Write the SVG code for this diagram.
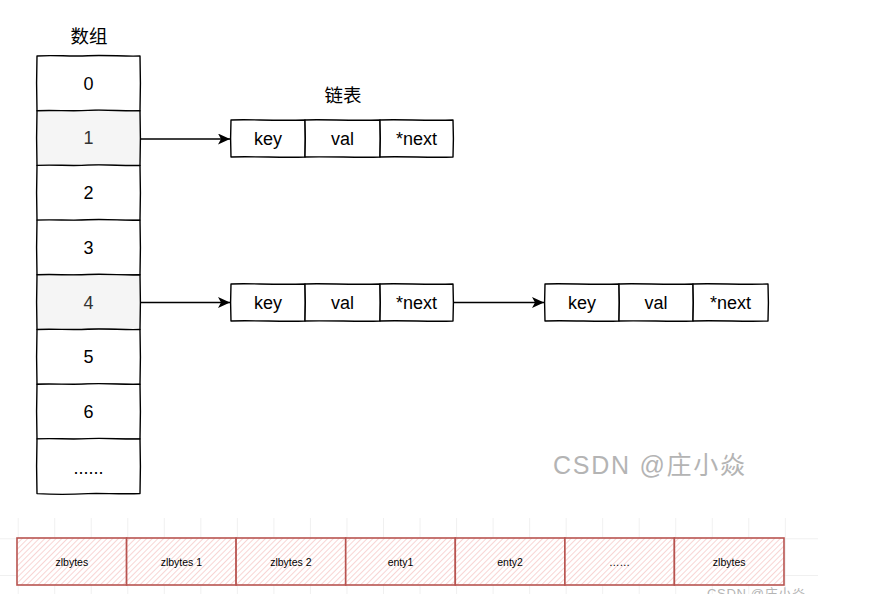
<svg xmlns="http://www.w3.org/2000/svg" width="893" height="594" viewBox="0 0 893 594">
<style>
.sk{fill:#fff;stroke:#000;stroke-width:1.4;stroke-linejoin:round}
.hl{fill:#f5f5f5}
.t{font-family:"Liberation Sans","Noto Sans CJK SC",sans-serif;font-size:18px;text-anchor:middle;fill:#000}
.tg{fill:#333}
.cjk{font-family:"Noto Sans CJK SC","Liberation Sans",sans-serif;font-size:18.5px;text-anchor:middle;fill:#000}
.zc{fill:url(#hatch);stroke:#b85450;stroke-width:1.6}
.zt{font-family:"Liberation Sans",Arial,sans-serif;font-size:10.5px;text-anchor:middle;fill:#000}
.con{fill:none;stroke:#000;stroke-width:1.4}
.wm{font-family:"Liberation Sans","Noto Sans CJK SC",sans-serif;fill:#b4b4b4}
</style>
<defs>
<marker id="ah" markerWidth="13" markerHeight="12" refX="12" refY="5.5" orient="auto" markerUnits="userSpaceOnUse">
<path d="M0,0 L12,5.5 L0,11 L3,5.5 Z" fill="#000"/>
</marker>
<pattern id="hatch" width="4" height="4" patternUnits="userSpaceOnUse" patternTransform="rotate(45)">
<rect width="4" height="4" fill="#fff"/>
<line x1="0" y1="0" x2="0" y2="4" stroke="#f5c4c2" stroke-width="1.4"/>
</pattern>
<pattern id="grid" x="17.7" y="538.3" width="36.53" height="36.7" patternUnits="userSpaceOnUse">
<rect width="36.53" height="36.7" fill="#fff"/>
<path d="M0,0 H36.53 M0,0 V36.7" stroke="#e2e2e2" stroke-width="1" fill="none"/>
</pattern>
</defs>
<rect width="893" height="594" fill="#fff"/>

<text class="cjk" x="89" y="43">数组</text>
<text class="cjk" x="343" y="102">链表</text>

<g id="cell0">
<path class="sk" d="M37,56 C55,54.8 70,56.8 88,55.7 S125,56.8 140,56 L140.4,83 L140,110.7 C120,111.6 100,110 88,110.7 S50,111.5 37,110.7 L36.6,83 Z"/>
<text class="t" x="88.5" y="89.7">0</text>
</g>
<g id="cell1">
<path class="sk hl" d="M37,110.7 C55,109.8 70,111.5 88,110.4 S125,111.5 140,110.7 L140.4,138 L140,165.4 C120,166.3 100,164.7 88,165.4 S50,166.2 37,165.4 L36.6,138 Z"/>
<text class="t tg" x="88.5" y="144.3">1</text>
</g>
<g id="cell2">
<path class="sk" d="M37,165.4 C55,164.5 70,166.2 88,165.1 S125,166.2 140,165.4 L140.4,192.8 L140,220.1 C120,221 100,219.4 88,220.1 S50,220.9 37,220.1 L36.6,192.8 Z"/>
<text class="t" x="88.5" y="199.1">2</text>
</g>
<g id="cell3">
<path class="sk" d="M37,220.1 C55,219.2 70,220.9 88,219.8 S125,220.9 140,220.1 L140.4,247.5 L140,274.8 C120,275.7 100,274.1 88,274.8 S50,275.6 37,274.8 L36.6,247.5 Z"/>
<text class="t" x="88.5" y="253.8">3</text>
</g>
<g id="cell4">
<path class="sk hl" d="M37,274.8 C55,273.9 70,275.6 88,274.5 S125,275.6 140,274.8 L140.4,302.2 L140,329.5 C120,330.4 100,328.8 88,329.5 S50,330.3 37,329.5 L36.6,302.2 Z"/>
<text class="t tg" x="88.5" y="308.5">4</text>
</g>
<g id="cell5">
<path class="sk" d="M37,329.5 C55,328.6 70,330.3 88,329.2 S125,330.3 140,329.5 L140.4,356.9 L140,384.2 C120,385.1 100,383.5 88,384.2 S50,385 37,384.2 L36.6,356.9 Z"/>
<text class="t" x="88.5" y="363.2">5</text>
</g>
<g id="cell6">
<path class="sk" d="M37,384.2 C55,383.3 70,385 88,383.9 S125,385 140,384.2 L140.4,411.6 L140,438.9 C120,439.8 100,438.2 88,438.9 S50,439.7 37,438.9 L36.6,411.6 Z"/>
<text class="t" x="88.5" y="417.9">6</text>
</g>
<g id="cell7">
<path class="sk" d="M37,438.9 C55,438 70,439.7 88,438.6 S125,439.7 140,438.9 L140.4,466.3 L140,493.6 C120,494.4 100,492.9 88,493.6 S50,494.4 37,493.6 L36.6,466.3 Z"/>
<text class="t" x="88.5" y="474">......</text>
</g>

<g id="node1-key">
<path class="sk" d="M231,120 C250,119 270,121 305,120 L305.3,138.5 L305,157 C285,158 255,156.2 231,157 L230.6,138.5 Z"/>
<text class="t" x="268" y="145">key</text>
</g>
<g id="node1-val">
<path class="sk" d="M305,120 C325,119.2 350,121 380,120 L380.3,138.5 L380,157 C360,157.9 330,156.3 305,157 L305.3,138.5 Z"/>
<text class="t" x="342.5" y="145">val</text>
</g>
<g id="node1-next">
<path class="sk" d="M380,120 C400,119 425,121 453,120 L453.4,138.5 L453,157 C430,157.9 405,156.2 380,157 L380.3,138.5 Z"/>
<text class="t" x="416.5" y="145">*next</text>
</g>

<g id="node2-key">
<path class="sk" d="M231,284 C250,283 270,285 305,284 L305.3,302.5 L305,321 C285,322 255,320.2 231,321 L230.6,302.5 Z"/>
<text class="t" x="268" y="309">key</text>
</g>
<g id="node2-val">
<path class="sk" d="M305,284 C325,283.2 350,285 380,284 L380.3,302.5 L380,321 C360,321.9 330,320.3 305,321 L305.3,302.5 Z"/>
<text class="t" x="342.5" y="309">val</text>
</g>
<g id="node2-next">
<path class="sk" d="M380,284 C400,283 425,285 453,284 L453.4,302.5 L453,321 C430,321.9 405,320.2 380,321 L380.3,302.5 Z"/>
<text class="t" x="416.5" y="309">*next</text>
</g>

<g id="node3-key">
<path class="sk" d="M545,284 C565,283 590,285 619,284 L619.3,302.5 L619,321 C600,322 570,320.2 545,321 L544.6,302.5 Z"/>
<text class="t" x="582" y="309">key</text>
</g>
<g id="node3-val">
<path class="sk" d="M619,284 C640,283.2 665,285 693,284 L693.3,302.5 L693,321 C670,321.9 645,320.3 619,321 L619.3,302.5 Z"/>
<text class="t" x="656" y="309">val</text>
</g>
<g id="node3-next">
<path class="sk" d="M693,284 C715,283 740,285 768,284 L768.4,302.5 L768,321 C745,321.9 720,320.2 693,321 L693.3,302.5 Z"/>
<text class="t" x="730.5" y="309">*next</text>
</g>

<g id="connectors">
<path class="con" d="M140,139 H230" marker-end="url(#ah)"/>
<path class="con" d="M140,302.5 H230" marker-end="url(#ah)"/>
<path class="con" d="M453,302.5 H544" marker-end="url(#ah)"/>
</g>

<text class="wm" x="553" y="474" font-size="25" textLength="192" lengthAdjust="spacing">CSDN @庄小焱</text>

<rect x="0" y="518" width="818" height="76" fill="url(#grid)"/>

<g id="z1"><rect class="zc" x="17" y="538" width="109.6" height="47"/><text class="zt" x="71.8" y="566">zlbytes</text></g>
<g id="z2"><rect class="zc" x="126.6" y="538" width="109.5" height="47"/><text class="zt" x="181.4" y="566">zlbytes 1</text></g>
<g id="z3"><rect class="zc" x="236.1" y="538" width="109.6" height="47"/><text class="zt" x="290.9" y="566">zlbytes 2</text></g>
<g id="z4"><rect class="zc" x="345.7" y="538" width="109.6" height="47"/><text class="zt" x="400.5" y="566">enty1</text></g>
<g id="z5"><rect class="zc" x="455.3" y="538" width="109.6" height="47"/><text class="zt" x="510.1" y="566">enty2</text></g>
<g id="z6"><rect class="zc" x="564.9" y="538" width="109.5" height="47"/><text class="zt" x="619.6" y="566">……</text></g>
<g id="z7"><rect class="zc" x="674.4" y="538" width="109.6" height="47"/><text class="zt" x="729.2" y="566">zlbytes</text></g>

<text class="wm" x="707" y="598" font-size="13" textLength="98" lengthAdjust="spacing">CSDN @庄小焱</text>
</svg>
